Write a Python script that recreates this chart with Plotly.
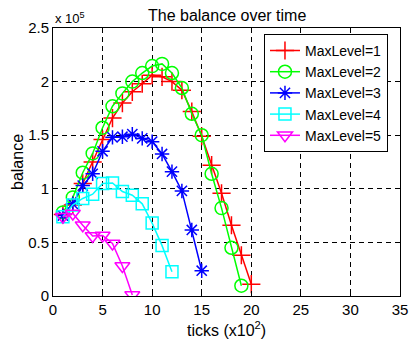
import plotly.graph_objects as go

# Data (balance in units of 1e5, ticks in units of 1e2)
x_l1 = list(range(1, 21))
y_l1 = [0.76, 0.85, 1.05, 1.25, 1.46, 1.66, 1.80, 1.905, 1.98, 2.06,
        2.045, 2.00, 1.92, 1.72, 1.49, 1.22, 0.958, 0.66, 0.38, 0.11]
x_l2 = list(range(1, 20))
y_l2 = [0.78, 0.92, 1.15, 1.33, 1.57, 1.77, 1.89, 2.00, 2.08, 2.145,
        2.165, 2.08, 1.94, 1.70, 1.50, 1.14, 0.82, 0.45, 0.096]
x_l3 = list(range(1, 16))
y_l3 = [0.75, 0.86, 1.03, 1.14, 1.35, 1.48, 1.486, 1.51, 1.47, 1.44,
        1.325, 1.16, 0.98, 0.616, 0.236]
x_l4 = list(range(1, 13))
y_l4 = [0.74, 0.85, 0.91, 0.95, 1.05, 1.055, 0.975, 0.94, 0.86, 0.68,
        0.47, 0.227]
x_l5 = list(range(1, 9))
y_l5 = [0.74, 0.77, 0.66, 0.56, 0.565, 0.49, 0.28, 0.01]

names = ["MaxLevel=1", "MaxLevel=2", "MaxLevel=3", "MaxLevel=4", "MaxLevel=5"]
xs = [x_l1, x_l2, x_l3, x_l4, x_l5]
ys = [y_l1, y_l2, y_l3, y_l4, y_l5]
colors = ["#FF0000", "#00FF00", "#0000FF", "#00FFFF", "#FF00FF"]
symbols = ["cross-thin-open", "circle-open", "asterisk-open", "square-open", "triangle-down-open"]
sizes = [13, 13, 12, 12, 13]

x_ticks = [0, 5, 10, 15, 20, 25, 30, 35]
y_ticks = [0, 0.5, 1, 1.5, 2, 2.5]
y_ticktext = ["0", "0.5", "1", "1.5", "2", "2.5"]

FONT = "Liberation Sans, Arial, sans-serif"

fig = go.Figure()
for x, y, n, c, s, sz in zip(xs, ys, names, colors, symbols, sizes):
    fig.add_trace(go.Scatter(
        x=x, y=y, name=n, mode="lines+markers",
        line=dict(color=c, width=1.5),
        marker=dict(symbol=s, size=sz, color=c, line=dict(color=c, width=1.5)),
    ))

axis_common = dict(
    showline=True, linecolor="black", linewidth=1, mirror="allticks",
    ticks="inside", ticklen=5, tickcolor="black", automargin=False,
    showgrid=True, gridcolor="black", gridwidth=1, griddash="5px,4px",
    zeroline=False, tickfont=dict(family=FONT, size=15, color="black"),
)

fig.update_xaxes(range=[0, 35], tickvals=x_ticks, **axis_common)
fig.update_yaxes(range=[0, 2.5], tickvals=y_ticks, ticktext=y_ticktext, **axis_common)

fig.update_layout(
    width=410, height=340, autosize=False,
    margin=dict(l=53, r=10, t=28, b=44),
    paper_bgcolor="white", plot_bgcolor="white",
    font=dict(family=FONT, size=15, color="black"),
    showlegend=True,
    legend=dict(
        x=0.608, y=0.978, xanchor="left", yanchor="top",
        bgcolor="white", bordercolor="black", borderwidth=1,
        font=dict(family=FONT, size=14, color="black"),
        tracegroupgap=0, itemwidth=30, entrywidth=117,
    ),
    annotations=[
        dict(text="The balance over time", xref="paper", yref="paper",
             x=0.5, y=1, yshift=13, xanchor="center", yanchor="middle",
             showarrow=False, font=dict(family=FONT, size=16)),
        dict(text="x 10<sup>5</sup>", xref="paper", yref="paper",
             x=0, y=1, xanchor="left", yanchor="bottom", yshift=0,
             showarrow=False, font=dict(family=FONT, size=13)),
        dict(text="ticks (x10<sup>2</sup>)", xref="paper", yref="paper",
             x=0.5, y=0, yshift=-33, xanchor="center", yanchor="middle",
             showarrow=False, font=dict(family=FONT, size=16)),
        dict(text="balance", xref="paper", yref="paper",
             x=0, y=0.5, xshift=-36, xanchor="center", yanchor="middle",
             textangle=-90, showarrow=False, font=dict(family=FONT, size=16)),
    ],
)

# remove the default page margin so the 410x340 figure fills the window exactly
fig.write_html(
    "out.html",
    config={"displayModeBar": False},
    post_script="document.body.style.margin='0';document.body.style.overflow='hidden';",
)
